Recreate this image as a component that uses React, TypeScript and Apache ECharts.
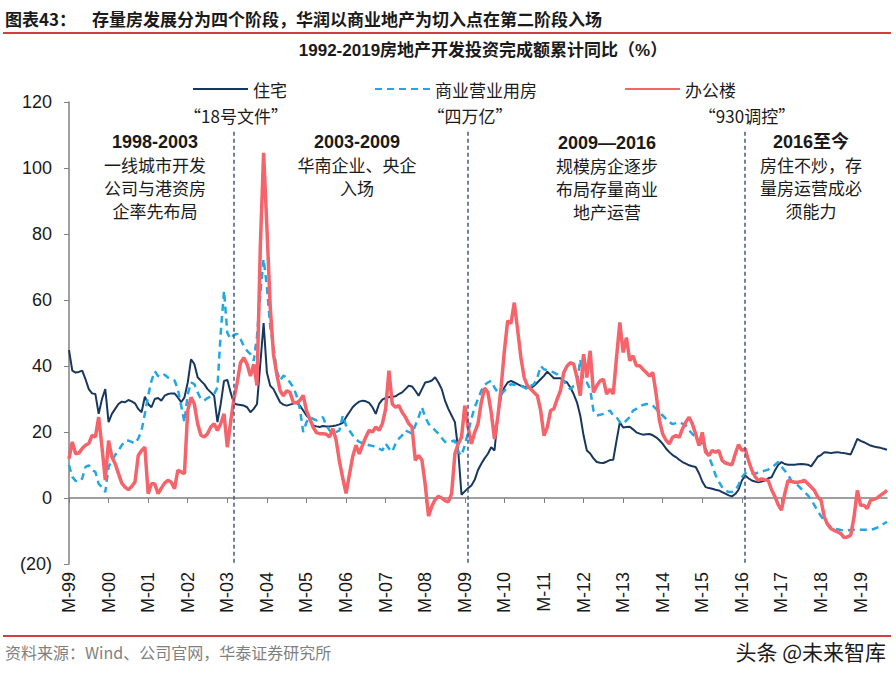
import React, { useEffect, useRef } from "react";
import * as echarts from "echarts";

// Year tick labels on the category axis (one per January)
const yearLabels = [
  "M-99", "M-00", "M-01", "M-02", "M-03", "M-04", "M-05", "M-06", "M-07", "M-08",
  "M-09", "M-10", "M-11", "M-12", "M-13", "M-14", "M-15", "M-16", "M-17", "M-18", "M-19",
];

const seriesNames = ["住宅", "商业营业用房", "办公楼"];

// 住宅 cumulative YoY (%), monthly from Jan 1999
const residential = [
  44.8, 38.6, 38.0, 38.2, 38.6, 36.0, 33.0, 31.7, 31.5, 25.5, 30.0, 33.0,
  23.0, 25.5, 27.0, 28.5, 29.2, 29.0, 29.7, 29.3, 28.7, 27.0, 26.0, 30.7,
  28.5, 27.5, 30.0, 30.3, 29.5, 31.0, 31.5, 31.7, 31.7, 30.5, 29.0, 30.5,
  35.0, 42.0, 40.6, 36.6, 35.5, 34.5, 33.0, 32.0, 31.0, 23.0, 28.5, 35.5,
  35.8, 32.0, 28.7, 28.3, 28.2, 28.0, 27.5, 26.0, 27.0, 28.5, 40.6, 53.0,
  38.0, 34.0, 33.0, 31.0, 29.0, 28.3, 28.0, 28.3, 28.6, 29.0, 28.0, 26.5,
  25.0, 24.0, 22.0, 21.7, 21.5, 21.8, 21.7, 21.7, 21.8, 22.0, 22.3, 22.8,
  24.5, 26.0, 27.5, 28.5, 29.2, 29.5, 29.3, 28.8, 27.5, 25.5, 28.5, 29.8,
  30.3, 30.6, 30.7, 30.8, 31.5, 32.0, 33.0, 34.0, 33.8, 32.5, 31.0, 33.0,
  35.0, 35.2, 35.6, 36.6, 35.0, 33.0, 29.5, 27.0, 25.0, 23.0, 14.4, 1.0,
  2.0, 3.0, 3.8, 5.5, 8.5, 10.4, 12.0, 13.4, 15.4, 14.4, 24.5, 31.0,
  33.5, 35.0, 35.5, 35.0, 34.5, 34.0, 33.7, 33.5, 33.3, 34.0, 35.0, 36.0,
  37.0, 38.3, 37.3, 36.3, 36.3, 36.3, 35.5, 35.0, 33.5, 31.5, 29.0, 25.0,
  19.0, 14.4, 13.5, 12.0, 10.9, 10.7, 10.6, 11.0, 11.5, 11.6, 17.4, 22.9,
  21.4, 21.5, 21.6, 20.8, 19.9, 19.5, 19.2, 19.3, 19.4, 19.0, 18.4, 17.5,
  16.4, 15.0, 13.9, 13.0, 12.4, 11.6, 10.9, 10.4, 9.9, 9.6, 9.4, 7.5,
  5.0, 3.3, 3.0, 2.8, 2.5, 2.3, 1.8, 1.3, 0.8, 0.5, 1.2, 2.5,
  5.3, 6.8, 6.0, 5.3, 5.0, 4.8, 5.0, 5.3, 6.0, 6.3, 8.3, 10.0,
  10.9, 10.3, 10.1, 10.1, 10.1, 10.2, 10.3, 10.2, 10.1, 9.6, 11.0, 12.5,
  13.0, 13.9, 13.8, 13.6, 13.8, 13.9, 13.7, 13.6, 13.4, 13.2, 15.5, 17.9,
  17.3, 16.9, 16.4, 15.9, 15.6, 15.4, 15.2, 14.9, 14.6,
];

// 商业营业用房 cumulative YoY (%)
const commercial = [
  10.0, 6.4, 5.2, 4.9, 5.9, 9.4, 9.9, 8.5, 7.9, 4.3, 3.3, 1.8,
  9.4, 11.5, 13.0, 14.4, 16.0, 17.3, 17.4, 17.0, 16.5, 18.0, 20.5, 25.5,
  31.0, 35.5, 38.4, 37.0, 36.6, 37.4, 36.5, 36.0, 35.6, 33.0, 28.0, 23.0,
  31.5, 35.0, 34.5, 32.0, 30.0, 29.5, 30.3, 30.8, 31.5, 33.5, 50.0, 62.8,
  50.0, 48.2, 49.5, 49.7, 48.2, 46.0, 44.6, 43.6, 41.6, 49.0, 62.0, 72.4,
  64.0, 52.0, 45.7, 38.5, 35.6, 37.1, 36.5, 35.0, 33.6, 31.0, 27.0, 20.0,
  23.0, 24.5, 24.0, 23.5, 24.0, 24.5, 22.0, 20.5, 19.5, 20.0, 20.5, 25.0,
  22.0, 20.5, 19.0, 17.8, 17.0, 16.6, 16.3, 16.0, 15.8, 15.5, 15.0, 14.4,
  16.5, 15.0, 14.0, 16.5, 18.0, 19.0, 20.5, 20.0, 19.5, 22.0, 24.5, 27.5,
  24.5, 22.5, 21.5, 20.5, 19.5, 18.2, 17.0, 16.9, 17.2, 17.4, 14.0, 12.8,
  16.0, 19.9, 24.0, 27.5, 30.0, 32.5, 34.3, 35.0, 35.5, 33.5, 32.0, 31.5,
  32.5, 33.5, 34.5, 34.3, 34.2, 34.0, 33.5, 33.0, 34.0, 34.5, 36.5, 40.0,
  39.0, 38.7, 38.5, 38.0, 37.5, 36.5, 35.5, 34.0, 33.0, 34.0, 34.5, 42.0,
  35.5, 35.0, 33.0, 26.5, 25.0, 25.2, 25.5, 26.0, 26.5, 25.0, 24.5, 23.0,
  22.4, 23.5, 24.5, 26.5, 27.0, 27.7, 28.2, 28.5, 28.3, 28.0, 27.0, 26.0,
  25.0, 24.0, 23.0, 22.4, 22.7, 23.0, 22.5, 22.0, 20.5, 19.4, 18.5, 17.4,
  16.5, 15.0, 12.5, 10.0, 7.0, 5.0, 3.3, 2.3, 1.8, 1.8, 2.3, 4.0,
  6.3, 7.5, 7.8, 7.5, 7.3, 7.8, 8.0, 8.3, 8.6, 9.3, 10.0, 10.9,
  9.5, 8.3, 7.0, 5.3, 4.5, 3.8, 2.8, 1.8, 0.8, -0.5, -2.2, -4.0,
  -5.5, -6.8, -8.0, -8.8, -9.2, -9.5, -9.7, -9.8, -9.8, -9.7, -9.6, -9.6,
  -9.6, -9.6, -9.6, -9.6, -9.4, -9.0, -8.5, -7.8, -7.2,
];

// 办公楼 cumulative YoY (%)
const office = [
  11.9, 17.0, 13.4, 13.6, 15.0, 16.0, 16.5, 19.0, 18.5, 24.5, 15.4, 5.4,
  17.4, 12.4, 10.4, 7.4, 4.5, 3.3, 2.5, 3.5, 4.8, 12.9, 14.4, 15.4,
  1.3, 4.3, 4.3, 1.3, 3.0, 4.5, 5.4, 4.8, 2.8, 8.4, 7.9, 7.4,
  26.5, 30.5, 28.5, 22.5, 19.0, 18.5, 19.5, 21.5, 22.5, 20.5, 22.5, 25.5,
  15.4, 23.0, 30.0, 35.0, 41.0, 42.5, 40.5, 37.0, 40.5, 34.1, 76.0, 104.6,
  82.0, 58.0, 43.5, 37.5, 32.5, 31.0, 32.5, 32.0, 29.0, 28.8, 29.6, 31.1,
  26.5, 24.0, 21.5, 19.8, 19.5, 19.5, 19.3, 18.5, 21.0, 17.5, 11.0, 6.0,
  1.4, 7.0, 12.5, 16.0, 13.4, 16.0, 18.5, 20.5, 20.0, 21.5, 20.5, 22.5,
  27.0, 38.6, 28.5, 27.5, 28.0, 26.0, 24.5, 22.5, 21.5, 11.4, 12.9, 11.5,
  4.0, -5.5, -2.5, -0.5, 0.5, 0.0, -0.8, -1.2, 1.3, 13.4, 16.4, 18.4,
  28.0, 21.4, 16.4, 19.9, 22.5, 29.0, 33.3, 32.0, 26.0, 17.9, 24.5, 33.5,
  44.6, 53.7, 52.9, 59.2, 51.1, 42.6, 36.5, 34.0, 33.0, 32.0, 31.0, 26.5,
  18.9, 21.4, 26.5, 27.0, 30.0, 32.5, 38.0, 40.0, 41.0, 40.6, 36.5, 31.0,
  43.6, 36.5, 44.6, 32.0, 34.0, 35.5, 36.0, 31.5, 33.0, 31.5, 42.6, 53.2,
  44.1, 48.6, 41.6, 43.1, 40.1, 40.1, 39.0, 38.0, 37.0, 38.0, 31.5, 23.5,
  19.4, 17.5, 16.4, 18.4, 18.9, 18.4, 21.0, 23.0, 24.5, 22.4, 19.4, 15.9,
  19.9, 13.9, 12.9, 14.4, 13.9, 14.4, 11.4, 10.6, 10.3, 10.1, 13.4, 16.2,
  14.4, 14.9, 11.4, 8.5, 6.5, 5.3, 5.8, 5.5, 5.3, 2.5, 0.5, -2.0,
  -3.7, 1.3, 5.3, 5.0, 4.8, 4.8, 5.0, 5.3, 4.3, 3.3, 2.3, 0.3,
  -0.7, -5.8, -8.0, -9.3, -9.8, -10.3, -10.8, -12.0, -11.8, -11.3, -5.8, 2.3,
  -2.2, -2.2, -3.2, -0.7, -0.4, 0.0, 0.8, 1.5, 2.3,
];

// Months where the policy turning points are marked
const policyMonths = ["M-03/3", "M-09/2", "M-16/2"];

// Monthly categories: January carries the year label
const categories: string[] = [];
yearLabels.forEach((y) => {
  for (let m = 1; m <= 12; m++) categories.push(m === 1 ? y : `${y}/${m}`);
});
categories.length = residential.length;

const CJK = '"Noto Sans CJK SC", sans-serif';
const LATIN = '"Liberation Sans", Arial, "Noto Sans CJK SC", sans-serif';
const INK = "#1a1a1a";

function txt(
  text: string,
  x: number,
  y: number,
  size: number,
  opts: {
    bold?: boolean;
    family?: string;
    align?: string;
    valign?: string;
    fill?: string;
    lineHeight?: number;
  } = {}
) {
  const align = opts.align || "center";
  const valign = opts.valign || "middle";
  return {
    type: "text",
    x,
    y,
    silent: true,
    style: {
      text,
      fill: opts.fill || INK,
      font: `${opts.bold ? "bold " : ""}${size}px ${opts.family || CJK}`,
      lineHeight: opts.lineHeight,
      align,
      verticalAlign: valign,
      textAlign: align,
      textVerticalAlign: valign,
    },
  };
}

// Phase heading plus its multi-line description
function phase(x: number, yHead: number, head: string, lines: string[]) {
  return [
    txt(head, x, yHead, 18, { bold: true, family: LATIN }),
    txt(lines.join("\n"), x, yHead + 11, 17, { valign: "top", lineHeight: 23 }),
  ];
}

function hline(y: number) {
  return {
    type: "line",
    silent: true,
    shape: { x1: 3, y1: y, x2: 891, y2: y },
    style: { stroke: "#C00000", lineWidth: 1.5 },
  };
}

export default function App() {
  const ref = useRef<HTMLDivElement>(null);

  useEffect(() => {
    if (!ref.current) return;
    const chart = echarts.init(ref.current, null, { renderer: "svg" });
    const yearTick = (i: number) => i % 12 === 0;

    const option: any = {
      animation: false,
      backgroundColor: "#ffffff",
      grid: { left: 69, right: 9, top: 102, bottom: 112, containLabel: false },
      legend: {
        data: seriesNames,
        left: 187,
        top: 75,
        itemWidth: 55,
        itemHeight: 14,
        itemGap: 87,
        itemStyle: { opacity: 0, borderWidth: 0 },
        textStyle: { fontSize: 17, lineHeight: 18, color: INK, fontFamily: CJK },
      },
      xAxis: {
        type: "category",
        data: categories,
        boundaryGap: false,
        axisLine: { lineStyle: { color: "#808080", width: 1.5 } },
        axisTick: { show: true, interval: yearTick, length: 5, lineStyle: { color: "#808080" } },
        axisLabel: {
          interval: yearTick,
          rotate: 90,
          margin: 8,
          fontSize: 18,
          color: INK,
          fontFamily: LATIN,
        },
        splitLine: { show: false },
      },
      yAxis: {
        type: "value",
        min: -20,
        max: 120,
        interval: 20,
        axisLine: { show: true, lineStyle: { color: "#808080", width: 1.5 } },
        axisTick: { show: true, length: 5, lineStyle: { color: "#808080" } },
        axisLabel: {
          fontSize: 18,
          color: INK,
          fontFamily: LATIN,
          margin: 17,
          formatter: (v: number) => (v < 0 ? `(${-v})` : `${v}`),
        },
        splitLine: { show: false },
      },
      series: [
        {
          name: seriesNames[0],
          type: "line",
          data: residential,
          symbol: "none",
          lineStyle: { color: "#17375E", width: 2 },
          itemStyle: { color: "#17375E" },
          emphasis: { disabled: true },
          markLine: {
            silent: true,
            symbol: ["none", "none"],
            label: { show: false },
            lineStyle: { color: "#3F5A86", width: 1.5, type: [4, 3] },
            data: policyMonths.map((m) => [{ coord: [m, 111] }, { coord: [m, -20] }]),
          },
        },
        {
          name: seriesNames[1],
          type: "line",
          data: commercial,
          symbol: "none",
          lineStyle: { color: "#22A7E0", width: 2.5, type: [7, 5] },
          itemStyle: { color: "#22A7E0" },
          emphasis: { disabled: true },
        },
        {
          name: seriesNames[2],
          type: "line",
          data: office,
          symbol: "none",
          lineStyle: { color: "#F4646A", width: 3.5 },
          itemStyle: { color: "#F4646A" },
          emphasis: { disabled: true },
        },
      ],
      graphic: [
        // page header
        txt("图表43：", 5, 18, 17, { bold: true, align: "left" }),
        txt("存量房发展分为四个阶段，华润以商业地产为切入点在第二阶段入场", 92, 18, 17, { bold: true, align: "left" }),
        hline(33),
        txt("1992-2019房地产开发投资完成额累计同比（%）", 483, 50, 17, { bold: true, family: LATIN }),
        // policy events
        txt("“18号文件”", 236, 115, 17, { lineHeight: 18 }),
        txt("“四万亿”", 470, 115, 17, { lineHeight: 18 }),
        txt("“930调控”", 747, 115, 17, { lineHeight: 18 }),
        // development phases
        ...phase(155, 142, "1998-2003", ["一线城市开发", "公司与港资房", "企率先布局"]),
        ...phase(357, 142, "2003-2009", ["华南企业、央企", "入场"]),
        ...phase(607, 143, "2009—2016", ["规模房企逐步", "布局存量商业", "地产运营"]),
        ...phase(811, 142, "2016至今", ["房住不炒，存", "量房运营成必", "须能力"]),
        // footer
        hline(636),
        txt("资料来源：Wind、公司官网，华泰证券研究所", 5, 652, 16, { align: "left", fill: "#7f7f7f" }),
        txt("头条 @未来智库", 886, 651, 21, { align: "right", fill: "#1a1a1a" }),
      ],
    };

    chart.setOption(option);
    return () => chart.dispose();
  }, []);

  return (
    <div
      ref={ref}
      style={{ position: "absolute", left: 0, top: 0, width: 896, height: 676, background: "#fff" }}
    />
  );
}
